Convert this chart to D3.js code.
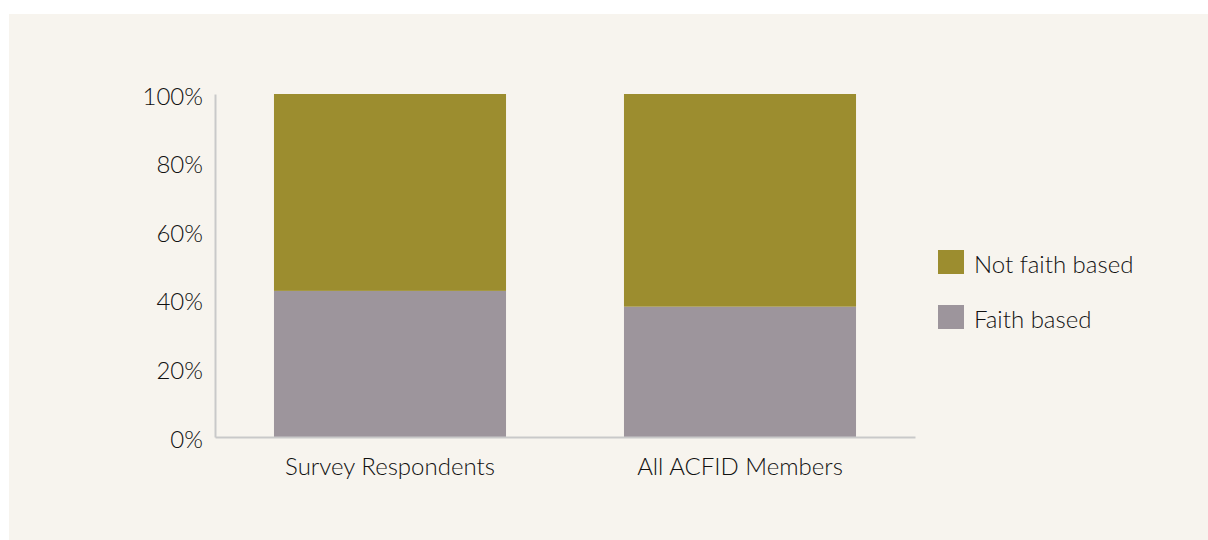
<!DOCTYPE html>
<html><head><meta charset="utf-8">
<script src="https://cdn.jsdelivr.net/npm/d3@7"></script>
<style>
html,body{margin:0;padding:0;background:#fff;}
svg{display:block;}
text{font-family:Lato, "Open Sans", sans-serif;font-weight:300;fill:#111;}
</style></head>
<body>
<svg id="chart" width="1208" height="540"></svg>
<script>
const categories = ["Survey Respondents", "All ACFID Members"];
const seriesNames = ["Faith based", "Not faith based"];
const faithBased = [42.6, 38.0];
const notFaithBased = [57.4, 62.0];
const yTicks = [0, 20, 40, 60, 80, 100];
const colors = {"Faith based": "#9D959C", "Not faith based": "#9C8D2F"};

(function(){
const svg = d3.select("#chart");
svg.append("rect").attr("x", 9).attr("y", 14).attr("width", 1199).attr("height", 526).attr("fill", "#F7F4EE");

const mLeft = 215, mRight = 915, mTop = 94, mBottom = 437;
const x = d3.scaleBand().domain(categories).range([mLeft, mRight]).paddingInner(0.337).paddingOuter(0.1685);
const y = d3.scaleLinear().domain([0, 100]).range([mBottom, mTop]);

const rows = categories.map((c, i) => ({cat: c, "Faith based": faithBased[i], "Not faith based": notFaithBased[i]}));
const stacked = d3.stack().keys(seriesNames)(rows);

svg.append("g").selectAll("g").data(stacked).join("g")
  .attr("fill", d => colors[d.key])
  .selectAll("rect").data(d => d).join("rect")
  .attr("x", d => x(d.data.cat))
  .attr("width", x.bandwidth())
  .attr("y", d => y(d[1]))
  .attr("height", d => y(d[0]) - y(d[1]));

const fontCss = "Lato, sans-serif";
const yAxis = svg.append("g").attr("transform", `translate(${mLeft},0)`)
  .call(d3.axisLeft(y).tickValues(yTicks).tickSize(0).tickPadding(12).tickFormat(d => d + "%"));
yAxis.select(".domain").attr("stroke", "#C9C9C9").attr("stroke-width", 2);
yAxis.selectAll("text").attr("font-size", 24).attr("font-family", fontCss).attr("font-weight", 300).attr("fill", "#111").attr("dy", "0.42em");

const xAxis = svg.append("g").attr("transform", `translate(0,${mBottom})`)
  .call(d3.axisBottom(x).tickSize(0).tickPadding(21));
xAxis.select(".domain").attr("stroke", "#C9C9C9").attr("stroke-width", 2);
xAxis.selectAll("text").attr("font-size", 24).attr("font-family", fontCss).attr("font-weight", 300).attr("fill", "#111");

const legendItems = ["Not faith based", "Faith based"];
const lg = svg.append("g").selectAll("g").data(legendItems).join("g")
  .attr("transform", (d, i) => `translate(938,${250 + i * 55})`);
lg.append("rect").attr("width", 26).attr("height", 24).attr("fill", d => colors[d]);
lg.append("text").attr("x", 36).attr("y", 23).attr("font-size", 24).text(d => d);
})();
</script>
</body></html>
